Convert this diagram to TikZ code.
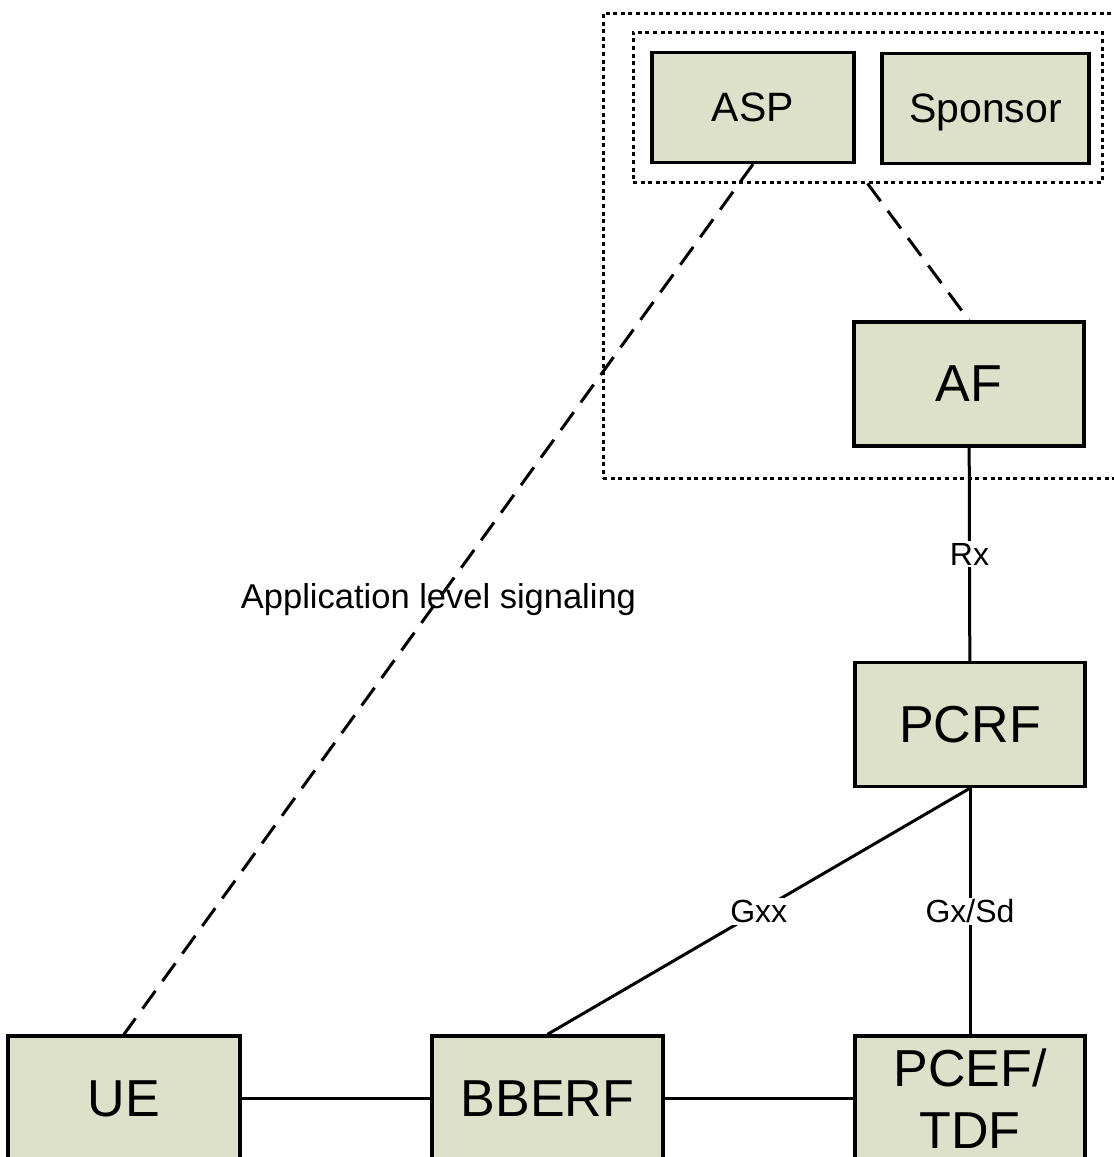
\documentclass[tikz,border=0pt]{standalone}
\usepackage{fontspec}
\setmainfont{Liberation Sans}
\usetikzlibrary{positioning}
\definecolor{boxgreen}{RGB}{221,225,202}
\tikzset{
  nfbox/.style={draw, line width=3.4pt, fill=boxgreen, inner sep=0pt,
    minimum width=230pt, minimum height=124pt, text depth=0pt,
    font=\fontsize{52}{62}\selectfont},
  spbox/.style={nfbox, minimum height=110pt, font=\fontsize{41}{49}\selectfont},
  grpbox/.style={draw, line width=3pt, dash pattern=on 4pt off 3.6pt, inner sep=0pt},
  link/.style={line width=3pt},
  siglink/.style={line width=3pt, dash pattern=on 22pt off 12pt},
  ifname/.style={fill=white, inner sep=2pt, font=\fontsize{32}{38}\selectfont}
}
\begin{document}
\begin{tikzpicture}[x=1pt, y=-1pt]
  \useasboundingbox (0,0) rectangle (1114,1157);
  \clip (0,0) rectangle (1114,1157);
  % domain boxes
  \node[grpbox, minimum width=527pt, minimum height=465pt] (dom) at (866.5,245.5) {};
  \node[grpbox, minimum width=469pt, minimum height=150pt] (grp) at (867.5,107) {};
  % network functions
  \node[spbox, minimum width=202pt] (asp)  at (753,107.5)  {ASP};
  \node[spbox, minimum width=207pt] (spon) at (985.5,108.5) {Sponsor};
  \node[nfbox] (af)   at (969,384)    {AF};
  \node[nfbox] (pcrf) at (970,724.5)  {PCRF};
  \node[nfbox, minimum width=232pt, minimum height=125pt] (ue) at (124,1098.5) {UE};
  \node[nfbox, minimum width=231pt, minimum height=125pt] (bberf) at (547.5,1098.5) {BBERF};
  \node[nfbox, minimum height=125pt, align=center, text depth=] (pcef) at (970,1098.5) {PCEF/\\TDF};
  % reference points
  \draw[link] (af) -- (pcrf) node[midway, ifname] {Rx};
  \draw[link] (pcrf.south) -- (bberf.north) node[midway, ifname] {Gxx};
  \draw[link] (pcrf) -- (pcef) node[midway, ifname] {Gx/Sd};
  \draw[link] (ue) -- (bberf);
  \draw[link] (bberf) -- (pcef);
  % signaling
  \draw[siglink] (grp.south) -- (af.north);
  \draw[siglink] (asp.south) -- (ue.north)
    node[midway, ifname, fill=none, font=\fontsize{34.5}{40}\selectfont] {Application level signaling};
\end{tikzpicture}
\end{document}
